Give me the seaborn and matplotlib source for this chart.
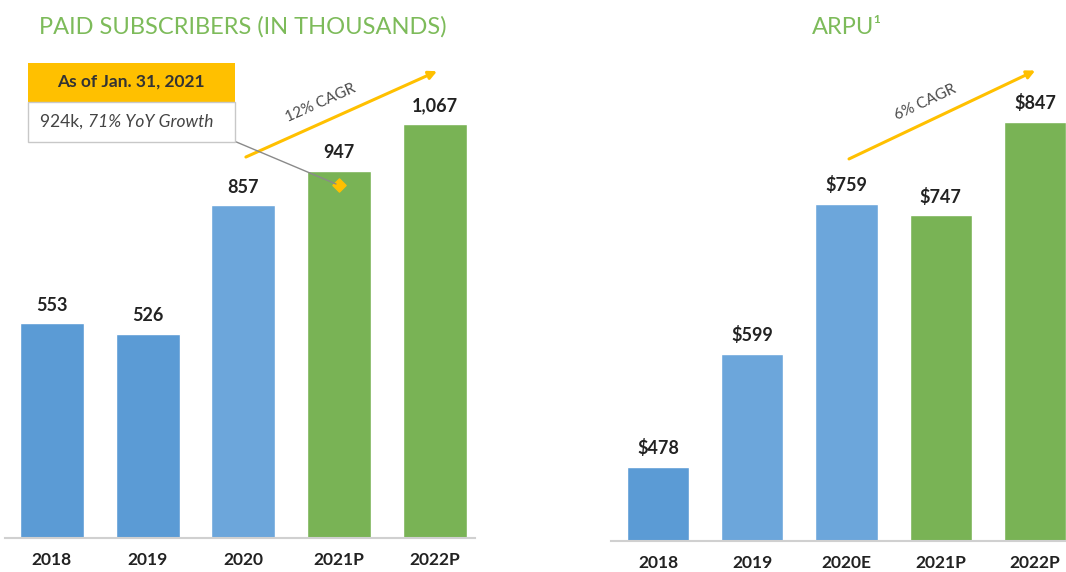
import matplotlib
matplotlib.use("Agg")
import matplotlib.pyplot as plt
import seaborn as sns
from matplotlib.patches import Rectangle
from matplotlib.lines import Line2D

# ---- data ----
sub_years = ["2018", "2019", "2020", "2021P", "2022P"]
sub_values = [553, 526, 857, 947, 1067]
sub_labels = ["553", "526", "857", "947", "1,067"]

arpu_years = ["2018", "2019", "2020E", "2021P", "2022P"]
arpu_values = [478, 599, 759, 747, 847]
arpu_labels = ["$478", "$599", "$759", "$747", "$847"]

callout_value = 924

BLUE_D = "#5B9BD5"
BLUE_L = "#6CA6DB"
GREEN = "#79B355"
YELLOW = "#FFC000"
TITLE_GREEN = "#7DBB5A"
TXT = "#222222"

sub_colors = [BLUE_D, BLUE_D, BLUE_L, GREEN, GREEN]
arpu_colors = [BLUE_D, BLUE_L, BLUE_L, GREEN, GREEN]

sns.set_style("white")
plt.rcParams["font.family"] = ["Lato", "DejaVu Sans"]

W, H = 1066, 572
fig = plt.figure(figsize=(W / 100, H / 100), dpi=100)


def px_axes(x0, x1, ytop, ybot):
    return fig.add_axes([x0 / W, (H - ybot) / H, (x1 - x0) / W, (ybot - ytop) / H])


def style(ax):
    for s in ["top", "right", "left"]:
        ax.spines[s].set_visible(False)
    ax.spines["bottom"].set_color("#D0D0D0")
    ax.spines["bottom"].set_linewidth(1.5)
    ax.set_yticks([])
    ax.set_xlabel("")
    ax.set_ylabel("")
    ax.tick_params(axis="x", length=0, pad=10)
    for t in ax.get_xticklabels():
        t.set_fontsize(12.5)
        t.set_fontweight("bold")
        t.set_color(TXT)


# ---- left chart ----
ax1 = px_axes(5, 475, 60, 538)
sns.barplot(x=sub_years, y=sub_values, hue=sub_years, palette=sub_colors,
            legend=False, width=0.67, saturation=1, ax=ax1)
ax1.set_xlim(-0.49, 4.42)
ax1.set_ylim(0, 1232)
style(ax1)
for i, (v, lab) in enumerate(zip(sub_values, sub_labels)):
    ax1.annotate(lab, (i, v), xytext=(0, 7), textcoords="offset points",
                 ha="center", va="bottom", fontsize=13, fontweight="bold", color=TXT)

# CAGR arrow
ax1.annotate("", xy=(4.05, 1206), xytext=(2.0, 979),
             arrowprops=dict(arrowstyle="-|>", color=YELLOW, lw=2.2, mutation_scale=12),
             annotation_clip=False)
fig.text(321 / W, 1 - 103 / H, "12% CAGR", rotation=24, ha="center", va="center",
         fontsize=11, color="#4A4A4A")

# diamond marker
ax1.scatter([3], [callout_value - 15], marker="D", s=45, color=YELLOW, zorder=5)

# callout box
fig.patches.append(Rectangle((28 / W, 1 - 102 / H), 207 / W, 39 / H,
                             transform=fig.transFigure, facecolor=YELLOW,
                             edgecolor="none", zorder=3))
fig.patches.append(Rectangle((28 / W, 1 - 142 / H), 207 / W, 40 / H,
                             transform=fig.transFigure, facecolor="white",
                             edgecolor="#C8C8C8", lw=1, zorder=3))
fig.text(131 / W, 1 - 82 / H, "As of Jan. 31, 2021", ha="center", va="center",
         fontsize=12.5, fontweight="bold", color="#333333", zorder=4)
fig.text(88 / W, 1 - 122 / H, "924k, ", ha="right", va="center",
         fontsize=12.5, color="#444444", zorder=4)
fig.text(88 / W, 1 - 122 / H, "71% YoY Growth", ha="left", va="center",
         fontsize=12.5, style="italic", color="#444444", zorder=4)
fig.lines.append(Line2D([234 / W, 336 / W], [1 - 141 / H, 1 - 184 / H],
                        transform=fig.transFigure, color="#8A8A8A", lw=1, zorder=2))

fig.text(243 / W, 1 - 27 / H, "PAID SUBSCRIBERS (IN THOUSANDS)", ha="center",
         va="center", fontsize=17, color=TITLE_GREEN)

# ---- right chart ----
ax2 = px_axes(611, 1066, 60, 541)
sns.barplot(x=arpu_years, y=arpu_values, hue=arpu_years, palette=arpu_colors,
            legend=False, width=0.66, saturation=1, ax=ax2)
ax2.set_xlim(-0.5, 4.33)
ax2.set_ylim(399, 913)
style(ax2)
for i, (v, lab) in enumerate(zip(arpu_values, arpu_labels)):
    ax2.annotate(lab, (i, v), xytext=(0, 7), textcoords="offset points",
                 ha="center", va="bottom", fontsize=13, fontweight="bold", color=TXT)

ax2.annotate("", xy=(4.03, 903), xytext=(2.0, 806),
             arrowprops=dict(arrowstyle="-|>", color=YELLOW, lw=2.2, mutation_scale=12),
             annotation_clip=False)
fig.text(925 / W, 1 - 102 / H, "6% CAGR", rotation=25, ha="center", va="center",
         fontsize=11, color="#4A4A4A")

fig.text(847 / W, 1 - 27 / H, "ARPU\u00b9", ha="center", va="center",
         fontsize=17, color=TITLE_GREEN)

fig.savefig("out.png", dpi=100)
